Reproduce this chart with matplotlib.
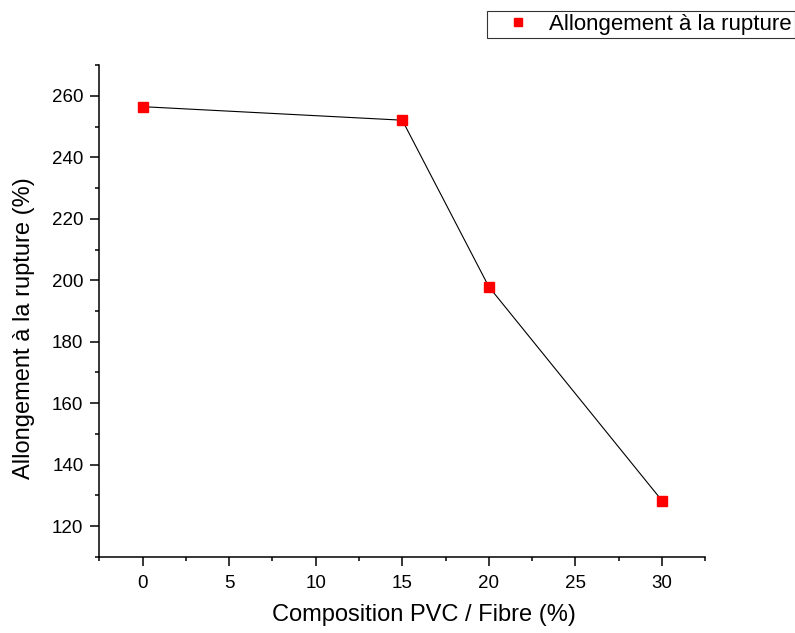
import matplotlib
matplotlib.use("Agg")
import matplotlib.pyplot as plt
from matplotlib.ticker import MultipleLocator

# data
composition = [0, 15, 20, 30]
allongement = [256.5, 252.1, 197.9, 128.3]

plt.rcParams['font.family'] = ['Liberation Sans', 'DejaVu Sans']

fig = plt.figure(figsize=(7.95, 6.33), dpi=100)
ax = fig.add_axes([0.125, 0.1205, 0.762, 0.7765])

ax.plot(composition, allongement, color='black', lw=0.8, zorder=2)
ax.plot(composition, allongement, 's', color='red', ms=7.5, mec='red',
        label='Allongement à la rupture', zorder=3)

ax.set_xlim(-2.5, 32.5)
ax.set_ylim(110, 270)
ax.xaxis.set_major_locator(MultipleLocator(5))
ax.xaxis.set_minor_locator(MultipleLocator(2.5))
ax.yaxis.set_major_locator(MultipleLocator(20))
ax.yaxis.set_minor_locator(MultipleLocator(10))

for s in ['top', 'right']:
    ax.spines[s].set_visible(False)
for s in ['left', 'bottom']:
    ax.spines[s].set_linewidth(1.1)
ax.tick_params(which='major', direction='out', length=6.5, width=1.1, labelsize=13.5)
ax.tick_params(axis='x', which='major', pad=7)
ax.tick_params(axis='y', which='major', pad=5)
ax.tick_params(which='minor', direction='out', length=3.2, width=1.1)

ax.set_xlabel('Composition PVC / Fibre (%)', fontsize=17)
ax.set_ylabel('Allongement à la rupture (%)', fontsize=17)
ax.xaxis.set_label_coords(0.535, -0.097)
ax.yaxis.set_label_coords(-0.106, 0.465)

leg = ax.legend(loc='upper left', bbox_to_anchor=(487 / 795, 1 - 10.7 / 633),
                bbox_transform=fig.transFigure, fontsize=16, frameon=True,
                fancybox=False, borderpad=0.15, handletextpad=0.2,
                handlelength=2.45, borderaxespad=0, markerscale=0.7)
leg.get_frame().set_edgecolor('black')
leg.get_frame().set_linewidth(0.8)

fig.savefig('out.png', dpi=100)
